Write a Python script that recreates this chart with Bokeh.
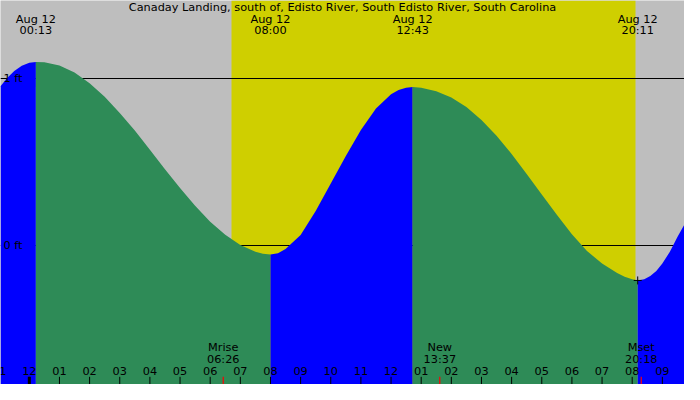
from bokeh.core.properties import value
from bokeh.embed import file_html
from bokeh.models import Range1d
from bokeh.plotting import figure
from bokeh.resources import INLINE

# hours since midnight Aug 12, heights in feet
tide_hours = [-0.956, -0.75, -0.5, -0.25, 0.0, 0.217,
              0.5, 1.0, 1.5, 2.0, 2.5, 3.0, 3.5, 4.0, 4.5, 5.0, 5.5, 6.0, 6.5, 7.0, 7.5, 7.75, 8.0,
              8.25, 8.5, 9.0, 9.5, 10.0, 10.5, 11.0, 11.5, 12.0, 12.25, 12.5, 12.717,
              13.0, 13.5, 14.0, 14.5, 15.0, 15.5, 16.0, 16.5, 17.0, 17.5, 18.0, 18.5,
              19.0, 19.5, 19.75, 20.0, 20.183,
              20.4, 20.6, 20.8, 21.0, 21.25, 21.5, 21.735]
tide_feet = [0.952, 0.999, 1.044, 1.075, 1.093, 1.098,
             1.097, 1.077, 1.035, 0.971, 0.890, 0.793, 0.687, 0.572, 0.456, 0.343, 0.237,
             0.142, 0.063, 0.002, -0.038, -0.050, -0.054,
             -0.047, -0.022, 0.062, 0.205, 0.370, 0.535, 0.690, 0.820, 0.905, 0.930, 0.943, 0.948,
             0.944, 0.923, 0.885, 0.828, 0.751, 0.656, 0.547, 0.428, 0.305, 0.183, 0.067, -0.034,
             -0.108, -0.165, -0.188, -0.203, -0.210,
             -0.203, -0.184, -0.153, -0.109, -0.038, 0.050, 0.125]

extreme_hours = [0.217, 8.0, 12.717, 20.183]
extreme_dates = ["Aug 12", "Aug 12", "Aug 12", "Aug 12"]
extreme_times = ["00:13", "08:00", "12:43", "20:11"]

now_hour = 20.183
now_feet = -0.21

sunrise = 6.70
sunset = 20.11

moon_hours = [6.433, 13.617, 20.30]
moon_events = ["Mrise", "New", "Mset"]
moon_times = ["06:26", "13:37", "20:18"]

tick_hours = list(range(-1, 22))
tick_labels = ["11", "12", "01", "02", "03", "04", "05", "06", "07", "08", "09",
               "10", "11", "12", "01", "02", "03", "04", "05", "06", "07", "08", "09"]
midnight = [0]

datum_feet = [0, 1]
datum_labels = ["0 ft", "1 ft"]

title = "Canaday Landing, south of, Edisto River, South Edisto River, South Carolina"

GRAY = "#bebebe"
DAY = "#cfcf00"
RISING = "#0000ff"
FALLING = "#2e8b57"
FONT = value("DejaVu Sans")
SIZE = "11.3px"

Y_BOTTOM, Y_TOP = -0.833, 1.466

p = figure(
    width=684,
    height=384,
    x_range=Range1d(-0.956, 21.735),
    y_range=Range1d(Y_BOTTOM, Y_TOP),
    output_backend="svg",
    toolbar_location=None,
    x_axis_location=None,
    y_axis_location=None,
    min_border=0,
    background_fill_color=GRAY,
    border_fill_color=GRAY,
    outline_line_color=None,
)
p.xgrid.visible = False
p.ygrid.visible = False

# daylight
p.vstrip(x0=[sunrise], x1=[sunset], fill_color=DAY, line_color=None)

# datum lines sit behind the water
p.hspan(y=datum_feet, line_color="black", line_width=1)

# split curve at highs/lows, colour by rising or falling
start = 0
for i in range(1, len(tide_feet)):
    last = i == len(tide_feet) - 1
    turn = not last and (tide_feet[i] - tide_feet[i - 1]) * (tide_feet[i + 1] - tide_feet[i]) < 0
    if turn or last:
        xs = tide_hours[start:i + 1]
        ys = tide_feet[start:i + 1]
        color = RISING if ys[-1] > ys[0] else FALLING
        p.varea(x=xs, y1=[Y_BOTTOM] * len(xs), y2=ys, fill_color=color)
        start = i

p.scatter([now_hour], [now_feet], marker="cross", size=8, line_color="black", line_width=1)

# hour ticks
p.segment(x0=tick_hours, y0=[-0.787] * len(tick_hours), x1=tick_hours,
          y1=[Y_BOTTOM] * len(tick_hours), line_color="black", line_width=1)
p.segment(x0=midnight, y0=[-0.787], x1=midnight, y1=[Y_BOTTOM],
          line_color="black", line_width=3)
p.segment(x0=moon_hours, y0=[-0.787] * 3, x1=moon_hours, y1=[Y_BOTTOM] * 3,
          line_color="red", line_width=1.2)

text_kw = dict(text_font=FONT, text_font_size=SIZE, text_color="black",
               text_baseline="middle")

p.text(x=tick_hours, y=[-0.750] * len(tick_hours), text=tick_labels,
       text_align="center", **text_kw)
p.text(x=moon_hours, y=[-0.613] * 3, text=moon_events, text_align="center", **text_kw)
p.text(x=moon_hours, y=[-0.681] * 3, text=moon_times, text_align="center", **text_kw)

p.text(x=extreme_hours, y=[1.353] * 4, text=extreme_dates, text_align="center", **text_kw)
p.text(x=extreme_hours, y=[1.286] * 4, text=extreme_times, text_align="center", **text_kw)

p.text(x=[-0.86] * 2, y=datum_feet, text=datum_labels, text_align="left", **text_kw)

p.text(x=[10.39], y=[1.422], text=[title], text_align="center", **text_kw)

open("out.html", "w").write(file_html(p, INLINE))
